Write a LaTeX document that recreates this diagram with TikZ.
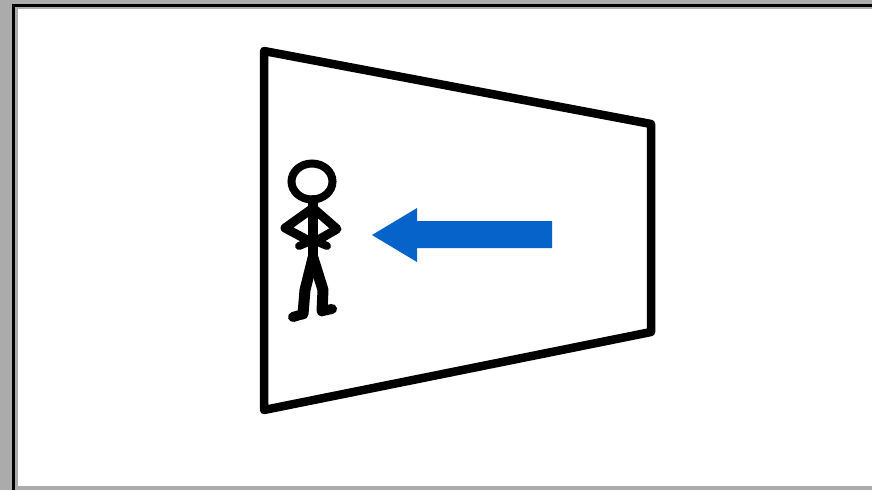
\documentclass[tikz,border=0pt]{standalone}
\definecolor{framegray}{HTML}{ABABAB}
\definecolor{arrowblue}{HTML}{0563C9}
\tikzset{
  wall/.style={draw=black,line width=8.5pt,line join=round,line cap=round},
  stick/.style={draw=black,line width=9pt,line join=round,line cap=round},
  bar/.style={fill=black}
}
\begin{document}
\begin{tikzpicture}[x=1pt,y=-1pt]
\useasboundingbox (0,0) rectangle (872,490);
% frame
\fill[framegray] (0,0) rectangle (872,490);
\fill[white] (18,9) rectangle (872,486);
\fill[bar] (12,4) rectangle (872,7);
\fill[bar] (12,4) rectangle (15,490);
% wall
\draw[wall] (264,51) -- (651,124) -- (651,332) -- (264,410) -- cycle;
% figure
\draw[draw=black,line width=8pt] (312,181.5) ellipse [x radius=20.5,y radius=18];
\draw[stick,line width=10pt] (313,200) -- (313,262);
\draw[stick] (313,208) -- (285,228) -- (313,243);
\draw[stick] (313,208) -- (337,229) -- (313,243);
\draw[stick,line width=8pt] (299,246) -- (313,240) -- (327,246);
\draw[stick,line width=11pt] (313,258) -- (305,290) -- (303,314);
\draw[stick,line width=10pt] (303,314) -- (293,317);
\draw[stick,line width=11pt] (313,258) -- (323,290) -- (322,311);
\draw[stick,line width=10pt] (322,311) -- (332,309);
% arrow
\fill[arrowblue] (552,221) -- (417,221) -- (417,208) -- (372,235) -- (417,262) -- (417,248) -- (552,248) -- cycle;
\end{tikzpicture}
\end{document}
